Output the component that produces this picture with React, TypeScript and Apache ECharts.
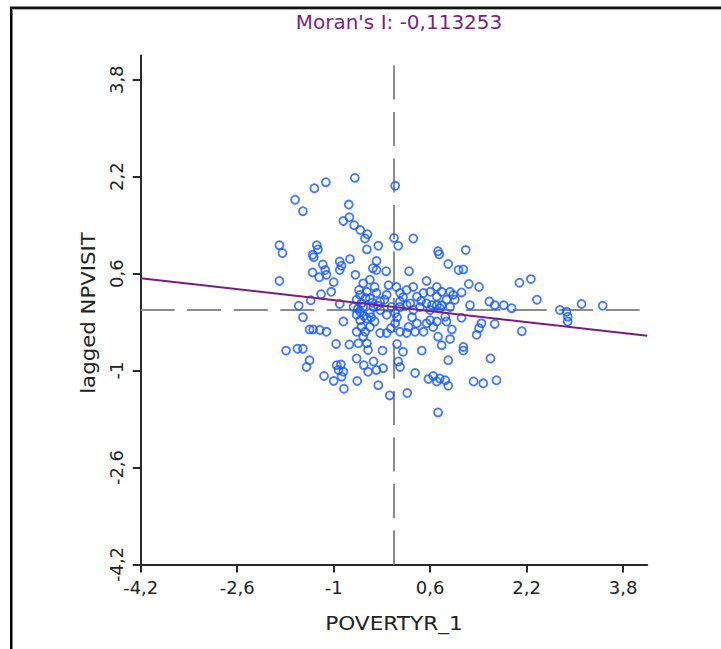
import React, { useEffect, useRef } from "react";
import * as echarts from "echarts";

// Moran scatter plot: standardized POVERTYR_1 against its spatial lag of NPVISIT.
const moranI = -0.113253;
const fitIntercept = 0.05;
const axisRange: [number, number] = [-4.2, 4.2];
const axisTicks = [-4.2, -2.6, -1, 0.6, 2.2, 3.8];
const meanValue = 0;
const xTitle = "POVERTYR_1";
const yTitle = "lagged NPVISIT";

// [standardized POVERTYR_1, lagged NPVISIT]
const moranPoints: [number, number][] = [
  [-0.65, 2.18], [0.02, 2.05], [-1.13, 2.11], [-1.32, 2.01], [-1.64, 1.82],
  [-1.51, 1.63], [-0.75, 1.74], [-0.84, 1.47], [-0.74, 1.53], [-0.66, 1.4],
  [-0.56, 1.32], [-0.44, 1.25], [-0.48, 1.18], [0.0, 1.19], [0.32, 1.18],
  [0.07, 1.06], [-0.26, 1.06], [-0.45, 1.0], [-1.9, 1.07], [-1.85, 0.94],
  [-1.28, 1.07], [-1.26, 1.0], [-1.35, 0.91], [-1.33, 0.87], [0.73, 0.97],
  [0.75, 0.92], [0.9, 0.76], [-0.9, 0.8], [-0.87, 0.73], [-0.73, 0.84],
  [-0.29, 0.81], [-1.18, 0.75], [-1.14, 0.66], [-1.12, 0.58], [-1.35, 0.62],
  [-1.24, 0.54], [-0.9, 0.66], [-0.35, 0.69], [-0.13, 0.64], [-0.29, 0.66],
  [0.25, 0.64], [-0.64, 0.58], [-1.9, 0.48], [-1.0, 0.46], [-1.04, 0.3],
  [-1.21, 0.26], [-1.38, 0.16], [-1.58, 0.07], [-0.9, 0.1], [0.54, 0.48],
  [0.71, 0.38], [0.93, 0.3], [1.07, 0.66], [-0.51, 0.44], [-0.4, 0.5],
  [-0.32, 0.38], [-0.45, 0.3], [-0.56, 0.25], [-0.62, 0.17], [-0.54, 0.11],
  [-0.4, 0.19], [-0.29, 0.28], [-0.23, 0.14], [-0.12, 0.25], [-0.09, 0.41],
  [0.04, 0.38], [0.1, 0.28], [0.21, 0.33], [0.32, 0.38], [0.38, 0.22],
  [0.49, 0.28], [0.6, 0.3], [0.71, 0.22], [0.79, 0.3], [0.87, 0.17],
  [0.98, 0.25], [0.79, 0.08], [0.54, 0.11], [0.27, 0.11], [0.1, 0.14],
  [-0.04, 0.05], [-0.34, 0.05], [-0.67, 0.05], [-1.51, -0.12], [-1.4, -0.32],
  [-1.34, -0.32], [-1.23, -0.33], [-1.12, -0.36], [-0.84, -0.19], [-0.96, -0.56],
  [-0.74, -0.57], [-1.79, -0.67], [-1.6, -0.64], [-1.51, -0.64], [-1.4, -0.83],
  [-1.45, -0.94], [-1.16, -1.09], [-1.0, -1.17], [-0.95, -0.91], [-0.88, -0.9],
  [-0.92, -0.99], [-0.84, -1.02], [-0.87, -1.1], [-0.83, -1.3], [-0.61, -1.17],
  [-0.62, -0.8], [-0.5, -0.91], [-0.43, -1.02], [-0.34, -0.85], [-0.29, -0.99],
  [-0.18, -0.96], [-0.26, -1.24], [-0.07, -1.41], [0.22, -1.37], [0.73, -1.69],
  [0.35, -1.04], [0.57, -1.14], [0.65, -1.09], [0.71, -1.18], [0.76, -1.13],
  [0.85, -1.16], [0.9, -1.25], [0.9, -0.83], [0.46, -0.67], [0.79, -0.58],
  [0.93, -0.48], [0.73, -0.44], [0.96, -0.32], [0.65, -0.28], [0.15, -0.69],
  [0.07, -0.85], [0.1, -0.94], [0.05, -0.56], [-0.19, -0.67], [-0.43, -0.66],
  [-0.45, -0.55], [-0.51, -0.44], [-0.48, -0.36], [-0.62, -0.36], [-0.59, -0.55],
  [-0.56, -0.17], [-0.12, -0.38], [-0.23, -0.38], [0.1, -0.36], [0.21, -0.38],
  [0.35, -0.36], [0.49, -0.36], [0.24, -0.28], [0.38, -0.22], [0.54, -0.22],
  [0.85, -0.11], [-0.4, -0.05], [-0.62, -0.08], [-0.51, 0.05], [-0.23, 0.0],
  [-0.56, -0.03], [-0.45, -0.14], [-0.32, -0.19], [-0.12, -0.08], [0.02, -0.05],
  [0.1, 0.05], [0.21, 0.08], [0.32, 0.0], [0.43, 0.05], [0.6, 0.0],
  [0.71, 0.08], [0.93, 0.05], [0.02, -0.22], [-0.4, -0.28], [-0.54, -0.28],
  [1.19, 0.99], [1.15, 0.67], [1.24, 0.43], [1.41, 0.38], [2.08, 0.45],
  [2.27, 0.51], [2.37, 0.17], [1.26, 0.08], [1.58, 0.14], [1.67, 0.08],
  [1.82, 0.08], [1.95, 0.03], [2.75, 0.0], [2.86, -0.03], [2.88, -0.11],
  [2.88, -0.19], [3.11, 0.1], [3.46, 0.07], [2.12, -0.35], [1.67, -0.23],
  [1.45, -0.22], [1.41, -0.3], [1.37, -0.41], [1.12, -0.13], [1.15, -0.61],
  [1.15, -0.67], [1.6, -0.8], [1.32, -1.18], [1.48, -1.21], [1.7, -1.16],
  [0.87, -0.19], [1.12, 0.29], [1.01, 0.17], [0.63, 0.08], [0.76, 0.03],
  [0.6, -0.17], [0.71, -0.19], [-0.58, 0.33], [-0.47, 0.2], [-0.36, 0.12],
  [-0.6, 0.02], [-0.5, -0.1], [-0.38, -0.12], [-0.27, 0.07], [-0.16, 0.17],
  [0.15, 0.21], [0.45, 0.15], [0.05, -0.12], [-0.05, -0.3], [0.3, -0.12],
];

const FONT = "DejaVu Sans";
const decimalComma = (v: number) => String(Math.round(v * 10) / 10).replace(".", ",");

export default function App() {
  const ref = useRef<HTMLDivElement>(null);

  useEffect(() => {
    if (!ref.current) return;
    const chart = echarts.init(ref.current, undefined, { renderer: "svg" });

    const [lo, hi] = axisRange;
    const fitLine = [lo, hi].map((x) => [x, fitIntercept + moranI * x]);
    const dash = [34, 12.5];

    const axisCommon = {
      type: "value" as const,
      min: lo,
      max: hi,
      splitLine: { show: false },
      axisLine: { show: true, onZero: false, lineStyle: { color: "#2a2a2a", width: 2 } },
      axisTick: {
        show: true,
        length: 8,
        customValues: axisTicks,
        lineStyle: { color: "#2a2a2a", width: 2 },
      },
    };

    chart.setOption({
      animation: false,
      backgroundColor: "#ffffff",
      textStyle: { fontFamily: FONT },
      title: {
        text: `Moran's I: ${String(moranI).replace(".", ",")}`,
        left: 394,
        top: 7,
        textAlign: "center",
        textStyle: { fontFamily: FONT, fontSize: 20, fontWeight: "normal", color: "#7c1f82" },
      },
      grid: { left: 140.7, right: 73.7, top: 55.5, bottom: 84.5 },
      xAxis: {
        ...axisCommon,
        axisLabel: {
          customValues: axisTicks,
          formatter: decimalComma,
          fontFamily: FONT,
          fontSize: 18,
          color: "#222",
          margin: 14,
        },
      },
      yAxis: {
        ...axisCommon,
        axisLabel: {
          customValues: axisTicks,
          formatter: decimalComma,
          fontFamily: FONT,
          fontSize: 18,
          color: "#222",
          rotate: 90,
          margin: 15,
        },
      },
      series: [
        {
          type: "line",
          data: [[lo, meanValue], [hi, meanValue]],
          symbol: "none",
          silent: true,
          z: 1,
          lineStyle: { color: "#8c8c8c", width: 2, type: dash },
        },
        {
          type: "line",
          data: [[meanValue, lo], [meanValue, hi]],
          symbol: "none",
          silent: true,
          z: 1,
          lineStyle: { color: "#8c8c8c", width: 2, type: dash },
        },
        {
          type: "scatter",
          data: moranPoints,
          symbol: "circle",
          symbolSize: 8,
          z: 2,
          itemStyle: { color: "rgba(0,0,0,0)", borderColor: "#1458ff", borderWidth: 1.8 },
        },
        {
          type: "line",
          data: fitLine,
          symbol: "none",
          silent: true,
          z: 3,
          lineStyle: { color: "#7a1d7e", width: 2 },
        },
      ],
      graphic: [
        { type: "rect", shape: { x: 10, y: 7, width: 2.5, height: 660 }, style: { fill: "#000" } },
        { type: "rect", shape: { x: 10, y: 6.5, width: 720, height: 2.5 }, style: { fill: "#111" } },
        { type: "rect", shape: { x: 12.5, y: 9, width: 710, height: 1 }, style: { fill: "#b0b0b0" } },
        {
          type: "text",
          x: 394,
          y: 623,
          scaleX: 1.14,
          style: {
            text: xTitle,
            fontFamily: FONT,
            fontSize: 19,
            fill: "#222",
            align: "center",
            verticalAlign: "middle",
          },
        },
        {
          type: "text",
          x: 88,
          y: 313,
          rotation: Math.PI / 2,
          scaleX: 1.12,
          style: {
            text: yTitle,
            fontFamily: FONT,
            fontSize: 19,
            fill: "#222",
            align: "center",
            verticalAlign: "middle",
          },
        },
      ],
    });

    return () => chart.dispose();
  }, []);

  return (
    <div
      ref={ref}
      style={{ position: "absolute", left: 0, top: 0, width: 721, height: 649 }}
    />
  );
}
